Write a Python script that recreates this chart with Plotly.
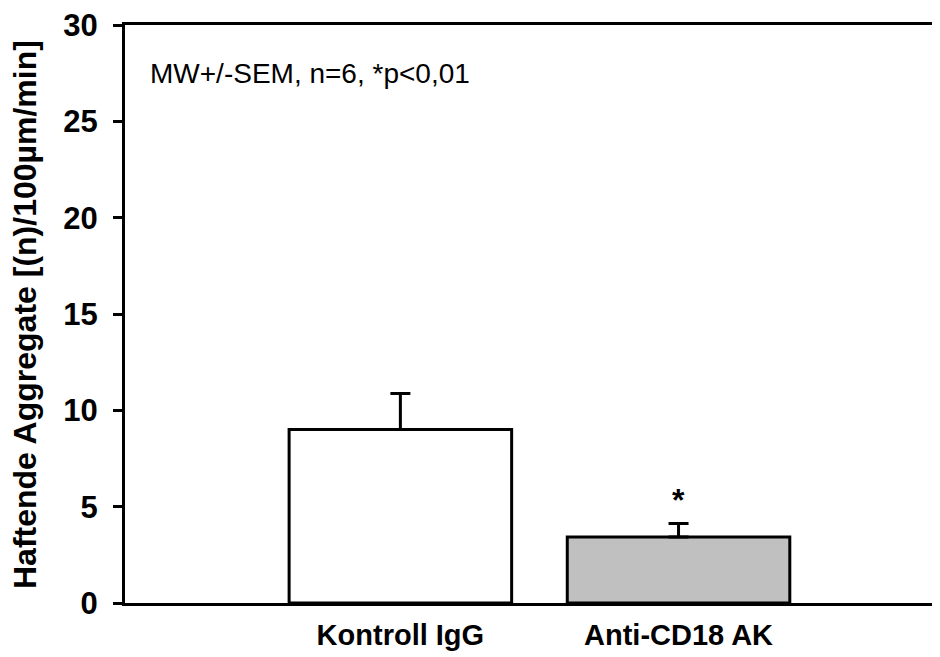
import plotly.graph_objects as go

# data
groups = ["Kontroll IgG", "Anti-CD18 AK"]
means = [9.0, 3.42]
sem = [1.88, 0.7]
bar_colors = ["#ffffff", "#c0c0c0"]
y_ticks = [0, 5, 10, 15, 20, 25, 30]

FONT = "Liberation Sans, Arial, sans-serif"

fig = go.Figure()

fig.add_trace(go.Bar(
    x=groups,
    y=means,
    width=0.8,
    marker=dict(color=bar_colors, line=dict(color="black", width=3)),
    error_y=dict(type="data", array=sem, arrayminus=[0, 0], symmetric=False,
                 color="black", thickness=3, width=10),
    showlegend=False,
))

fig.add_annotation(x=groups[1], y=means[1] + sem[1], yanchor="bottom", yshift=4,
                   text="*", showarrow=False,
                   font=dict(family=FONT, size=32, color="black", weight="bold"))

fig.add_annotation(x=0.028, xref="paper", y=27.5, xanchor="left", yanchor="middle",
                   text="MW+/-SEM, n=6, *p<0,01", showarrow=False,
                   font=dict(family=FONT, size=28, color="black"))

fig.add_annotation(x=-0.1227, xref="paper", y=0.5, yref="paper",
                   xanchor="center", yanchor="middle", textangle=-90,
                   text="Haftende Aggregate [(n)/100µm/min]", showarrow=False,
                   font=dict(family=FONT, size=32, color="black", weight="bold"))

fig.update_layout(
    width=932,
    height=649,
    margin=dict(l=117, r=0, t=14, b=54),
    plot_bgcolor="white",
    paper_bgcolor="white",
    font=dict(family=FONT, color="black"),
    xaxis=dict(
        type="category",
        range=[-0.99, 1.94],
        showline=True, linecolor="black", linewidth=3, mirror=True,
        ticks="", showgrid=False, zeroline=False,
        tickfont=dict(size=29, weight="bold"),
        ticklabelstandoff=4,
    ),
    yaxis=dict(
        range=[0, 30],
        tickvals=y_ticks,
        showline=True, linecolor="black", linewidth=3,
        ticks="outside", ticklen=9, tickwidth=3, tickcolor="black",
        showgrid=False, zeroline=False,
        tickfont=dict(size=31, weight="bold"),
        ticklabelstandoff=9,
        ticklabeloverflow="allow",
    ),
)

fig.write_html("out.html")
